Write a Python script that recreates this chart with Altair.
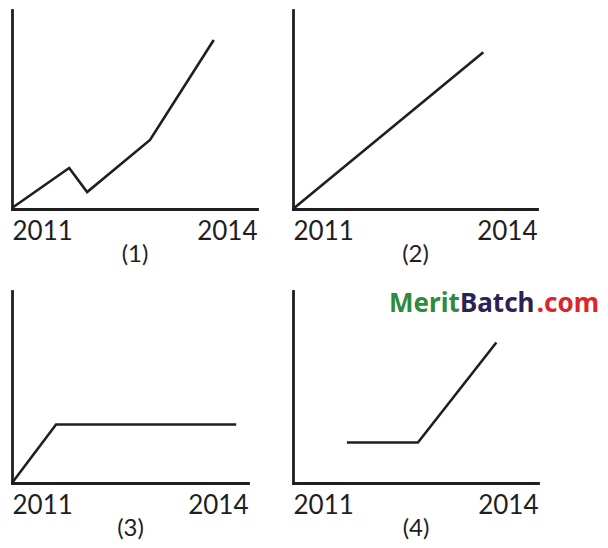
import altair as alt
import pandas as pd

# ---- data ----
tick_years = [2011, 2014]
panel_titles = ["(1)", "(2)", "(3)", "(4)"]

p1_year = [2011.0, 2011.70, 2011.92, 2012.69, 2013.47]
p1_value = [0.05, 2.06, 0.85, 3.47, 8.49]

p2_year = [2011.0, 2013.34]
p2_value = [0.0, 7.88]

p3_year = [2011.0, 2011.56, 2013.85]
p3_value = [0.0, 3.05, 3.05]

p4_year = [2011.66, 2012.53, 2013.49]
p4_value = [2.11, 2.11, 7.32]

wm_parts = ["Merit", "Batch", ".com"]
wm_colors = ["#2f8a3b", "#2b2452", "#d9262a"]

INK = "#1f1f1f"
FONT = "Lato"


def panel(years, values, title, w, h):
    df = pd.DataFrame({"year": years, "value": values, "idx": list(range(len(years)))})
    return alt.Chart(df).mark_line(
        color=INK, strokeWidth=2.6, strokeJoin="miter", strokeCap="butt"
    ).encode(
        x=alt.X(
            "year:Q",
            scale=alt.Scale(domain=[2011, 2014], nice=False, zero=False),
            axis=alt.Axis(
                values=tick_years, format="d", title=title, grid=False,
                ticks=False, tickSize=0, labelFlush=True,
                domainColor=INK, domainWidth=2.8, domainCap="square",
                labelFont=FONT, labelFontSize=26, labelColor=INK, labelPadding=9,
                titleFont=FONT, titleFontSize=24, titleFontWeight="normal",
                titleColor=INK, titlePadding=-2,
            ),
        ),
        y=alt.Y(
            "value:Q",
            scale=alt.Scale(domain=[0, 10], nice=False),
            axis=alt.Axis(
                title=None, labels=False, ticks=False, tickSize=0, grid=False,
                domainColor=INK, domainWidth=2.8, domainCap="square",
                minExtent=0, maxExtent=0,
            ),
        ),
        order="idx:O",
    ).properties(width=w, height=h)


c1 = panel(p1_year, p1_value, panel_titles[0], 245, 199)
c2 = panel(p2_year, p2_value, panel_titles[1], 244, 199)
c3 = panel(p3_year, p3_value, panel_titles[2], 236, 192)
c4_line = panel(p4_year, p4_value, panel_titles[3], 245, 192)

wm_df = pd.DataFrame({"t": wm_parts, "c": wm_colors})
wm_x = [96, 167, 306]
wm_align = ["left", "left", "right"]
wm_layers = []
for i in range(3):
    wm_layers.append(
        alt.Chart(wm_df.iloc[[i]]).mark_text(
            font="Noto Sans", fontSize=26, fontWeight="bold", align=wm_align[i],
            baseline="alphabetic", color=wm_colors[i],
        ).encode(text="t:N", x=alt.value(wm_x[i]), y=alt.value(21))
    )
c4 = alt.layer(c4_line, *wm_layers)

chart = alt.concat(
    c1, c2, c3, c4, columns=2, spacing={"row": 82, "column": 36}, bounds="flush"
).properties(
    padding={"left": -2, "top": 2, "right": 0, "bottom": 0},
    background="white",
).configure_view(stroke=None)

chart.save("out.html", embed_options={"renderer": "svg", "actions": False})
